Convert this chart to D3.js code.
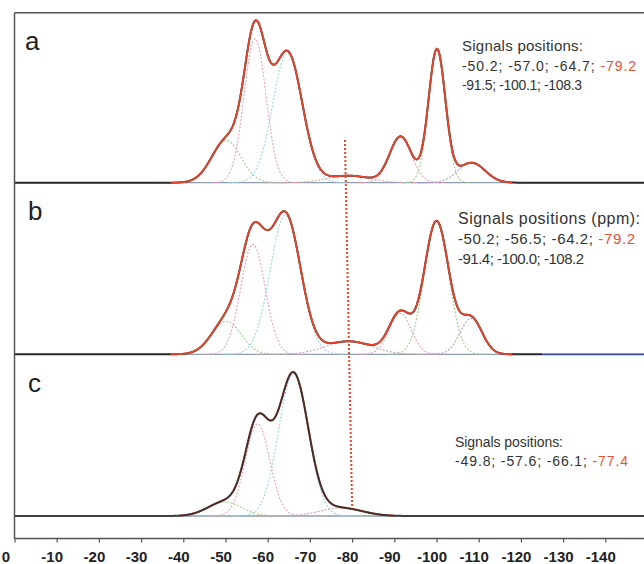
<!DOCTYPE html>
<html>
<head>
<meta charset="utf-8">
<script src="https://cdn.jsdelivr.net/npm/d3@7"></script>
<style>
  body { margin: 0; background: #fff; }
  svg { display: block; }
  text { font-family: "Liberation Sans", Arial, sans-serif; }
</style>
</head>
<body>
<svg id="chart" width="644" height="564"></svg>
<script>
// Chemical shift axis (ppm)
const ppmTicks = [0, -10, -20, -30, -40, -50, -60, -70, -80, -90, -100, -110, -120, -130, -140];

// Fitted components per spectrum: centre (ppm), height (a.u.), gaussian width sigma (ppm)
const aCenters = [-50.2, -57.0, -64.7, -79.2, -91.5, -100.1, -108.3];
const aHeights = [42, 144, 130, 7, 46, 133, 20];
const aWidths  = [3.5, 2.6, 3.5, 5.0, 2.6, 2.0, 3.2];

const bCenters = [-50.2, -56.5, -64.2, -79.2, -91.4, -100.0, -108.2];
const bHeights = [33, 110, 139, 13, 41, 133, 36];
const bWidths  = [3.5, 2.9, 3.6, 5.5, 2.6, 2.9, 2.6];

const cCenters = [-49.8, -57.6, -66.1, -77.4];
const cHeights = [14, 92, 142, 8];
const cWidths  = [4.0, 2.9, 3.5, 5.0];

// Range covered by the fit envelope (ppm)
const aFitRange = [-37, -118];
const bFitRange = [-37, -118];
const cFitRange = [-39, -90];

const panelLabels = ["a", "b", "c"];
const headers = ["Signals positions:", "Signals positions (ppm):", "Signals positions:"];
const highlightIndex = 3;         // the -79 ppm family of signals
const markerPpm = [-78.3, -80.0]; // dotted marker, top and bottom

// Styles
const compColors = ["#9ccf8f", "#e7a0bb", "#9bd5e3", "#c7a6ae", "#e7a0bb", "#9ccf8f", "#a79ad2"];
const expColor = "#2a2a2a";
const fitColor = "#e8462c";
const noteRed = "#e2543a";
const textColor = "#333";
const frameColor = "#555";

// Layout
const W = 644, H = 564;
const plotLeft = 14.5, plotTop = 12.7, axisY = 538.5;
const x = d3.scaleLinear().domain([0, -150]).range([plotLeft, plotLeft + 4.22 * 150]);

const svg = d3.select("#chart");
svg.append("defs").append("clipPath").attr("id", "plotclip")
  .append("rect").attr("x", plotLeft).attr("y", plotTop)
  .attr("width", W - plotLeft).attr("height", axisY - plotTop);

const panels = [
  { centers: aCenters, heights: aHeights, widths: aWidths, fit: aFitRange, base: 182.7,
    labelPos: [25, 50],
    text: { x: 462, ys: [51, 70.5, 90], sizes: [15, 14, 14], lens: [121, 174, 120] }, fitOnTop: true },
  { centers: bCenters, heights: bHeights, widths: bWidths, fit: bFitRange, base: 354.3,
    labelPos: [28, 220],
    text: { x: 458, ys: [224, 244, 264], sizes: [16, 15, 15], lens: [182, 177, 126] }, fitOnTop: true, blueTail: -125 },
  { centers: cCenters, heights: cHeights, widths: cWidths, fit: cFitRange, base: 516,
    labelPos: [28, 392],
    text: { x: 455, ys: [447, 466], sizes: [14, 14], lens: [108, 173] }, fitOnTop: false }
];

const gauss = (p, c, h, s) => h * Math.exp(-0.5 * ((p - c) / s) ** 2);
const total = (pn, p) => d3.sum(pn.centers, (c, i) => gauss(p, c, pn.heights[i], pn.widths[i]));
const fmt = v => v.toFixed(1);

const plot = svg.append("g").attr("clip-path", "url(#plotclip)");

panels.forEach((pn, k) => {
  const y = d3.scaleLinear().domain([0, 170]).range([pn.base, pn.base - 170]);
  const line = d3.line().x(d => x(d[0])).y(d => y(d[1]));
  const g = plot.append("g");

  // baseline
  g.append("line")
    .attr("x1", plotLeft).attr("x2", W).attr("y1", y(0)).attr("y2", y(0))
    .attr("stroke", "#8f9dab").attr("stroke-width", 1.3);

  // individual components
  pn.centers.forEach((c, i) => {
    const s = pn.widths[i];
    const pts = d3.range(c + 4 * s, c - 4 * s, -0.1).map(p => [p, gauss(p, c, pn.heights[i], s)]);
    g.append("path").attr("d", line(pts)).attr("fill", "none")
      .attr("stroke", compColors[i]).attr("stroke-width", 1.1)
      .attr("stroke-dasharray", "2,1.6");
  });

  const expPts = d3.range(0, -150.01, -0.1).map(p => [p, total(pn, p)]);
  const fitPts = d3.range(pn.fit[0], pn.fit[1] - 0.01, -0.1).map(p => [p, total(pn, p)]);

  const drawExp = () => {
    if (pn.blueTail !== undefined) {
      g.append("path").attr("d", line(expPts.filter(d => d[0] >= pn.blueTail)))
        .attr("fill", "none").attr("stroke", expColor).attr("stroke-width", 2);
      g.append("path").attr("d", line(expPts.filter(d => d[0] <= pn.blueTail)))
        .attr("fill", "none").attr("stroke", "#3b4a9c").attr("stroke-width", 1.8);
    } else {
      g.append("path").attr("d", line(expPts)).attr("fill", "none")
        .attr("stroke", expColor).attr("stroke-width", 2)
        .attr("stroke-opacity", pn.fitOnTop ? 1 : 0.85);
    }
  };
  const drawFit = () => {
    g.append("path").attr("d", line(fitPts)).attr("fill", "none")
      .attr("stroke", fitColor).attr("stroke-width", 1.8);
  };
  if (pn.fitOnTop) { drawExp(); drawFit(); } else { drawFit(); drawExp(); }

  // panel letter
  svg.append("text").attr("x", pn.labelPos[0]).attr("y", pn.labelPos[1])
    .attr("font-size", 26).attr("fill", "#222").text(panelLabels[k]);

  // signal positions note
  const t = pn.text;
  const n = pn.centers.length;
  const first = pn.centers.slice(0, highlightIndex).map(fmt).join("; ") + "; ";
  const lines = [
    [[headers[k], textColor]],
    [[first, textColor], [fmt(pn.centers[highlightIndex]), noteRed]]
  ];
  if (n > highlightIndex + 1) lines.push([[pn.centers.slice(highlightIndex + 1).map(fmt).join("; "), textColor]]);
  lines.forEach((parts, li) => {
    const tx = svg.append("text").attr("x", t.x).attr("y", t.ys[li])
      .attr("font-size", t.sizes[li]).attr("textLength", t.lens[li])
      .attr("lengthAdjust", "spacing")
      .style("white-space", "pre");
    parts.forEach(([s, col]) => tx.append("tspan").attr("fill", col).text(s));
  });
});

// dotted marker across the spectra
svg.append("line")
  .attr("x1", x(markerPpm[0])).attr("y1", 140)
  .attr("x2", x(markerPpm[1])).attr("y2", 507)
  .attr("stroke", fitColor).attr("stroke-width", 2).attr("stroke-dasharray", "2,2");

// frame: left edge and top edge
svg.append("line").attr("x1", plotLeft).attr("x2", plotLeft).attr("y1", plotTop).attr("y2", axisY)
  .attr("stroke", frameColor).attr("stroke-width", 1.5);
svg.append("line").attr("x1", plotLeft).attr("x2", W).attr("y1", plotTop).attr("y2", plotTop)
  .attr("stroke", frameColor).attr("stroke-width", 1.5);

// bottom axis
const axis = d3.axisBottom(x).tickValues(ppmTicks).tickSize(4).tickSizeOuter(0);
const ax = svg.append("g").attr("transform", `translate(0,${axisY})`).call(axis);
ax.select(".domain").attr("stroke", frameColor).attr("stroke-width", 1.5).attr("d", `M${plotLeft},0H${W}`);
ax.selectAll(".tick line").attr("stroke", frameColor).attr("stroke-width", 1.2);
ax.selectAll(".tick text")
  .attr("y", 23).attr("dy", 0)
  .attr("dx", d => d === 0 ? -9 : -5)
  .attr("font-size", 15).attr("font-weight", "bold").attr("fill", "#222")
  .attr("font-family", "'Liberation Sans', Arial, sans-serif")
  .text(d => d === 0 ? "0" : "-" + Math.abs(d));
</script>
</body>
</html>
